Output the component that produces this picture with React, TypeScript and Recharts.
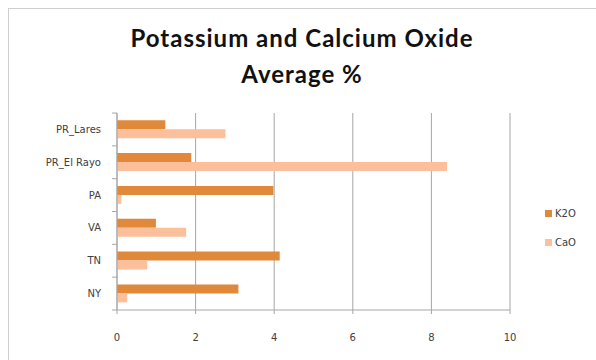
import React from 'react'
import { BarChart, Bar, XAxis, YAxis, CartesianGrid } from 'recharts'

// sites, top to bottom as in the chart
const sites = ['PR_Lares', 'PR_El Rayo', 'PA', 'VA', 'TN', 'NY']
const k2o = [1.23, 1.89, 3.98, 0.99, 4.14, 3.09]
const cao = [2.76, 8.4, 0.11, 1.76, 0.77, 0.26]
const xTicks = [0, 2, 4, 6, 8, 10]

const K2O_COLOR = '#e0893a'
const CAO_COLOR = '#fbbf9c'
const AXIS_GRAY = '#a6a6a6'
const LABEL_COLOR = '#404040'
const LABEL_FONT = 'DejaVu Sans'

const W = 596
const H = 360
const X_HEIGHT = 30
const MARGIN = { top: 113, right: 86, bottom: 20, left: 0 }
const Y_WIDTH = 117

const data = sites.map((name, i) => ({ name, K2O: k2o[i], CaO: cao[i] }))

// category labels plus Excel-style tick marks between the categories
function SiteTick(props: any) {
  const { x, y, payload, index } = props
  const band = (H - MARGIN.top - MARGIN.bottom - X_HEIGHT) / sites.length
  const ax = x + 8
  return (
    <g>
      <line x1={ax - 5} x2={ax} y1={y - band / 2} y2={y - band / 2} stroke={AXIS_GRAY} />
      {index === sites.length - 1 && (
        <line x1={ax - 5} x2={ax} y1={y + band / 2} y2={y + band / 2} stroke={AXIS_GRAY} />
      )}
      <text
        x={x - 8}
        y={y}
        dy="0.35em"
        textAnchor="end"
        fill={LABEL_COLOR}
        fontSize={10}
        style={{ fontFamily: LABEL_FONT }}
      >
        {payload.value}
      </text>
    </g>
  )
}

export default function App() {
  return (
    <div style={{ position: 'absolute', left: 0, top: 0, width: W, height: H, overflow: 'hidden', background: '#fff' }}>
      <div
        style={{
          position: 'absolute', left: 8, top: 8, width: W, height: H,
          border: '1px solid #cfcfcf', boxSizing: 'border-box',
        }}
      />
      <div
        style={{
          position: 'absolute', left: 8, width: W - 8, top: 20, textAlign: 'center',
          fontFamily: 'Lato', fontWeight: 700, fontSize: 24, letterSpacing: 1,
          lineHeight: '36px', color: '#111',
        }}
      >
        Potassium and Calcium Oxide
        <br />
        Average %
      </div>
      <BarChart
        width={W}
        height={H}
        data={data}
        layout="vertical"
        margin={MARGIN}
        barCategoryGap="22%"
        barGap={0}
        style={{ position: 'absolute', left: 0, top: 0 }}
      >
        <CartesianGrid horizontal={false} stroke={AXIS_GRAY} />
        <XAxis
          type="number"
          domain={[0, 10]}
          ticks={xTicks}
          interval={0}
          height={X_HEIGHT}
          stroke={AXIS_GRAY}
          tickSize={4}
          tickMargin={20}
          tick={{ fill: LABEL_COLOR, fontSize: 10, style: { fontFamily: LABEL_FONT } }}
        />
        <YAxis
          type="category"
          dataKey="name"
          width={Y_WIDTH}
          stroke={AXIS_GRAY}
          tickLine={false}
          tick={<SiteTick />}
          interval={0}
        />
        <Bar dataKey="K2O" fill={K2O_COLOR} isAnimationActive={false} />
        <Bar dataKey="CaO" fill={CAO_COLOR} isAnimationActive={false} />
      </BarChart>
      {[{ name: 'K2O', color: K2O_COLOR, top: 208 }, { name: 'CaO', color: CAO_COLOR, top: 237 }].map((s) => (
        <div
          key={s.name}
          style={{
            position: 'absolute', left: 545, top: s.top, display: 'flex', alignItems: 'center',
            fontFamily: LABEL_FONT, fontSize: 10, color: LABEL_COLOR,
          }}
        >
          <span style={{ width: 7, height: 7, background: s.color, marginRight: 3 }} />
          {s.name}
        </div>
      ))}
    </div>
  )
}
